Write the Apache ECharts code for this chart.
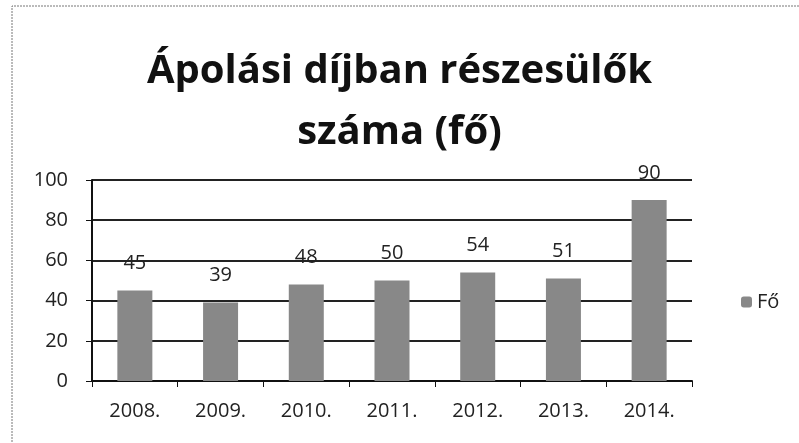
<!DOCTYPE html>
<html>
<head>
<meta charset="utf-8">
<script src="https://cdn.jsdelivr.net/npm/echarts@6/dist/echarts.min.js"></script>
<style>
  html, body { margin: 0; padding: 0; background: #fff; }
  #chart { width: 799px; height: 443px; }
</style>
</head>
<body>
<div id="chart"></div>
<script>
// data
const years = ['2008.', '2009.', '2010.', '2011.', '2012.', '2013.', '2014.'];
const people = [45, 39, 48, 50, 54, 51, 90];
const seriesName = 'Fő';
const titleText = 'Ápolási díjban részesülők\nszáma (fő)';

const font = '"Open Sans", "DejaVu Sans", sans-serif';
const myChart = echarts.init(document.getElementById('chart'));

const option = {
  animation: false,
  backgroundColor: '#fff',
  title: {
    text: titleText,
    left: 'center',
    top: 36,
    textStyle: {
      fontFamily: font,
      fontSize: 40,
      fontWeight: 'bold',
      color: '#111',
      lineHeight: 61
    }
  },
  legend: {
    data: [seriesName],
    orient: 'vertical',
    left: 736,
    top: 287,
    itemWidth: 11,
    itemHeight: 11,
    itemGap: 7,
    textStyle: { fontFamily: font, fontSize: 20, color: '#222' }
  },
  grid: {
    left: 92,
    right: 107,
    top: 180,
    bottom: 62,
    containLabel: false
  },
  xAxis: {
    type: 'category',
    data: years,
    axisLine: { lineStyle: { color: '#111', width: 2 } },
    axisTick: { show: true, length: 6, lineStyle: { color: '#111' } },
    axisLabel: { fontFamily: font, fontSize: 20, color: '#222', margin: 20 }
  },
  yAxis: {
    type: 'value',
    min: 0,
    max: 100,
    interval: 20,
    axisLine: { show: true, lineStyle: { color: '#111', width: 2 } },
    axisTick: { show: true, length: 6, lineStyle: { color: '#111' } },
    axisLabel: { fontFamily: font, fontSize: 20, color: '#222', margin: 24 },
    splitLine: { lineStyle: { color: '#222', width: 2 } }
  },
  series: [
    {
      name: seriesName,
      type: 'bar',
      data: people,
      barWidth: 35,
      itemStyle: { color: '#888' },
      label: {
        show: true,
        position: 'top',
        distance: 17,
        fontFamily: font,
        fontSize: 20,
        color: '#222'
      }
    }
  ],
  graphic: [
    {
      type: 'polyline',
      shape: { points: [[12, 442], [12, 6], [799, 6]] },
      style: { stroke: '#777', lineWidth: 1, lineDash: [2, 1], fill: null }
    }
  ]
};

myChart.setOption(option);
</script>
</body>
</html>
